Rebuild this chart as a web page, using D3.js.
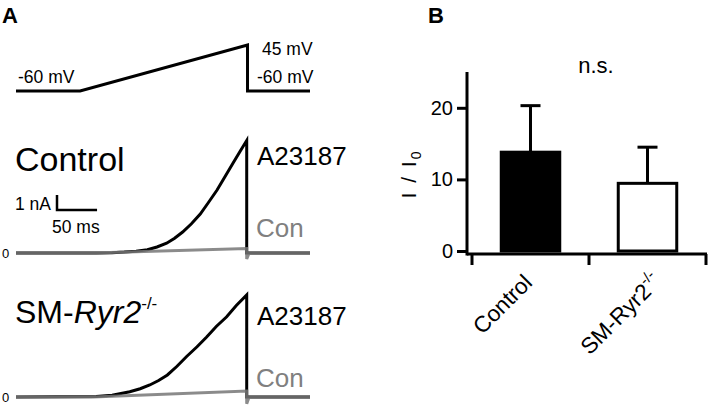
<!DOCTYPE html>
<html>
<head>
<meta charset="utf-8">
<script src="https://cdn.jsdelivr.net/npm/d3@7"></script>
<style>
body { margin: 0; background: #fff; }
svg { font-family: "Liberation Sans", Arial, sans-serif; }
</style>
</head>
<body>
<svg id="fig" width="709" height="405"></svg>
<script>
// ramp protocol (ms, mV)
var rampTime = [0, 80, 289, 289, 367];
var rampVolt = [-60, -60, 45, -60, -60];

// currents (ms, nA)
var ctrlTime = [0, 100, 120, 135, 150, 164, 176, 188, 198, 208, 219, 230, 240, 251, 261, 271, 280, 288, 288, 367];
var ctrlA23187 = [0, 0, 0.02, 0.06, 0.12, 0.22, 0.4, 0.65, 0.98, 1.4, 1.95, 2.6, 3.35, 4.2, 5.1, 6.0, 6.8, 7.5, 0, 0];
var ctrlConTime = [0, 96, 288, 288, 291, 367];
var ctrlCon = [0, 0, 0.3, -0.4, 0, 0];

var smTime = [0, 100, 120, 142, 155, 167, 178, 189, 201, 213, 226, 238, 250, 263, 275, 288, 288, 367];
var smA23187 = [0, 0.03, 0.12, 0.35, 0.55, 0.8, 1.1, 1.47, 2.05, 2.7, 3.35, 4.0, 4.7, 5.35, 6.1, 6.8, 0, 0];
var smConTime = [0, 96, 288, 288, 291, 367];
var smCon = [0, 0, 0.4, -0.45, 0, 0];

// bar chart, I / I0
var groups = ["Control", "SM-Ryr2"];
var means = [13.8, 9.45];
var sems = [6.5, 5.05];
var yTicks = [0, 10, 20];

var svg = d3.select('#fig');
var black = '#000', grey = '#777';

// ---- panel A ----
svg.append('text').attr('x', 2).attr('y', 23)
    .style('font-size', '22px').style('font-weight', 'bold').text('A');

var x = d3.scaleLinear().domain([0, 367]).range([16, 310]);
var yV = d3.scaleLinear().domain([-60, 45]).range([91, 45]);

svg.append('path')
    .datum(d3.zip(rampTime, rampVolt))
    .attr('d', d3.line().x(function(d) { return x(d[0]); }).y(function(d) { return yV(d[1]); }))
    .attr('fill', 'none').attr('stroke', black).attr('stroke-width', 3);

var vLabels = [
    { text: '-60 mV', x: 18, y: 83 },
    { text: '45 mV', x: 262, y: 55 },
    { text: '-60 mV', x: 257, y: 83 }
];
svg.selectAll('text.vlab').data(vLabels).enter().append('text')
    .attr('class', 'vlab')
    .attr('x', function(d) { return d.x; })
    .attr('y', function(d) { return d.y; })
    .style('font-size', '17.5px')
    .text(function(d) { return d.text; });

var rows = [
    { base: 253, t: ctrlTime, a: ctrlA23187, ct: ctrlConTime, c: ctrlCon, labelY: 171, aY: 165, cY: 237 },
    { base: 397, t: smTime, a: smA23187, ct: smConTime, c: smCon, labelY: 323, aY: 325, cY: 387 }
];

rows.forEach(function(r, i) {
    var y = d3.scaleLinear().domain([0, 1]).range([r.base, r.base - 15]);
    var line = d3.line().x(function(d) { return x(d[0]); }).y(function(d) { return y(d[1]); });

    svg.append('path').datum(d3.zip(r.t, r.a)).attr('d', line)
        .attr('fill', 'none').attr('stroke', black).attr('stroke-width', 3);
    svg.append('path').datum(d3.zip(r.ct, r.c)).attr('d', line)
        .attr('fill', 'none').attr('stroke', grey).attr('stroke-width', 3)
        .attr('stroke-opacity', 0.85);

    svg.append('text').attr('x', 2).attr('y', r.base + 4.5)
        .style('font-size', '13px').text('0');
    svg.append('text').attr('x', 257).attr('y', r.aY)
        .style('font-size', '26px').text('A23187');
    svg.append('text').attr('x', 256).attr('y', r.cY)
        .style('font-size', '26px').attr('fill', '#808080').text('Con');

    if (i == 0) {
        svg.append('text').attr('x', 15).attr('y', r.labelY)
            .style('font-size', '34px').text('Control');
        // scale bar: 1 nA, 50 ms
        var sx = 57, sy = 210;
        svg.append('path')
            .attr('d', 'M' + sx + ',' + (sy - (y(0) - y(1))) + 'V' + sy + 'H' + (sx + x(50) - x(0)))
            .attr('fill', 'none').attr('stroke', black).attr('stroke-width', 2.5);
        svg.append('text').attr('x', 15).attr('y', 210).style('font-size', '17.5px').text('1 nA');
        svg.append('text').attr('x', 52).attr('y', 233).style('font-size', '17.5px').text('50 ms');
    } else {
        var t = svg.append('text').attr('x', 15).attr('y', r.labelY).style('font-size', '32px');
        t.append('tspan').text('SM-');
        t.append('tspan').style('font-style', 'italic').text('Ryr2');
        t.append('tspan').attr('dy', -14).style('font-size', '17px').text('-/-');
    }
});

// ---- panel B ----
svg.append('text').attr('x', 428).attr('y', 23)
    .style('font-size', '22px').style('font-weight', 'bold').text('B');

var yB = d3.scaleLinear().domain([0, 25]).range([251, 72]);
var xB = d3.scaleBand().domain(groups).range([472, 706]);
var bw = xB.bandwidth() * 0.5;
var axisY = 254;

var yAxis = svg.append('g').attr('transform', 'translate(467,0)')
    .call(d3.axisLeft(yB).tickValues(yTicks).tickSize(10).tickSizeOuter(0).tickPadding(4));
yAxis.select('.domain').remove();
yAxis.selectAll('.tick line').attr('stroke-width', 3);
yAxis.selectAll('.tick text').style('font-size', '20px').attr('fill', black)
    .style('font-family', '"Liberation Sans", Arial, sans-serif');
yAxis.append('line').attr('x1', 0).attr('x2', 0).attr('y1', 72).attr('y2', axisY + 1.5)
    .attr('stroke', black).attr('stroke-width', 3);

svg.append('line').attr('x1', 467).attr('x2', 707).attr('y1', axisY).attr('y2', axisY)
    .attr('stroke', black).attr('stroke-width', 3);
var edges = groups.map(function(g) { return xB(g); }).concat([xB.range()[1]]);
svg.selectAll('line.xtick').data(edges).enter().append('line')
    .attr('class', 'xtick')
    .attr('x1', function(d) { return d; }).attr('x2', function(d) { return d; })
    .attr('y1', axisY).attr('y2', axisY + 11)
    .attr('stroke', black).attr('stroke-width', 3);

var bars = svg.selectAll('g.bar').data(groups).enter().append('g').attr('class', 'bar');
bars.append('line')
    .attr('x1', function(d) { return xB(d) + xB.bandwidth() / 2; })
    .attr('x2', function(d) { return xB(d) + xB.bandwidth() / 2; })
    .attr('y1', function(d, i) { return yB(means[i]); })
    .attr('y2', function(d, i) { return yB(means[i] + sems[i]); })
    .attr('stroke', black).attr('stroke-width', 3);
bars.append('line')
    .attr('x1', function(d) { return xB(d) + xB.bandwidth() / 2 - 10; })
    .attr('x2', function(d) { return xB(d) + xB.bandwidth() / 2 + 10; })
    .attr('y1', function(d, i) { return yB(means[i] + sems[i]); })
    .attr('y2', function(d, i) { return yB(means[i] + sems[i]); })
    .attr('stroke', black).attr('stroke-width', 3);
bars.append('rect')
    .attr('x', function(d) { return xB(d) + (xB.bandwidth() - bw) / 2; })
    .attr('width', bw)
    .attr('y', function(d, i) { return yB(means[i]); })
    .attr('height', function(d, i) { return yB(0) - yB(means[i]); })
    .attr('fill', function(d, i) { return i == 0 ? black : '#fff'; })
    .attr('stroke', black).attr('stroke-width', 3);

// category labels, rotated
var lab = svg.selectAll('text.xlab').data(groups).enter().append('text')
    .attr('class', 'xlab')
    .attr('text-anchor', 'end')
    .attr('transform', function(d, i) {
        var cx = xB(d) + xB.bandwidth() / 2;
        return i == 0 ? 'translate(' + (cx + 3) + ',284) rotate(-45)'
                      : 'translate(' + (cx + 15) + ',283) rotate(-45)';
    })
    .style('font-size', '22.5px');
lab.filter(function(d, i) { return i == 0; }).text(function(d) { return d; });
var sm = lab.filter(function(d, i) { return i == 1; });
sm.append('tspan').text(function(d) { return d; });
sm.append('tspan').attr('dy', -10).style('font-size', '15px').text('-/-');

svg.append('text').attr('x', 596).attr('y', 73).attr('text-anchor', 'middle')
    .style('font-size', '22px').text('n.s.');

var yl = svg.append('text').attr('text-anchor', 'middle')
    .attr('transform', 'translate(416,174) rotate(-90)')
    .style('font-size', '21px').style('letter-spacing', '2px');
yl.append('tspan').text('I / I');
yl.append('tspan').attr('dy', 5).style('font-size', '14px').text('0');
</script>
</body>
</html>
